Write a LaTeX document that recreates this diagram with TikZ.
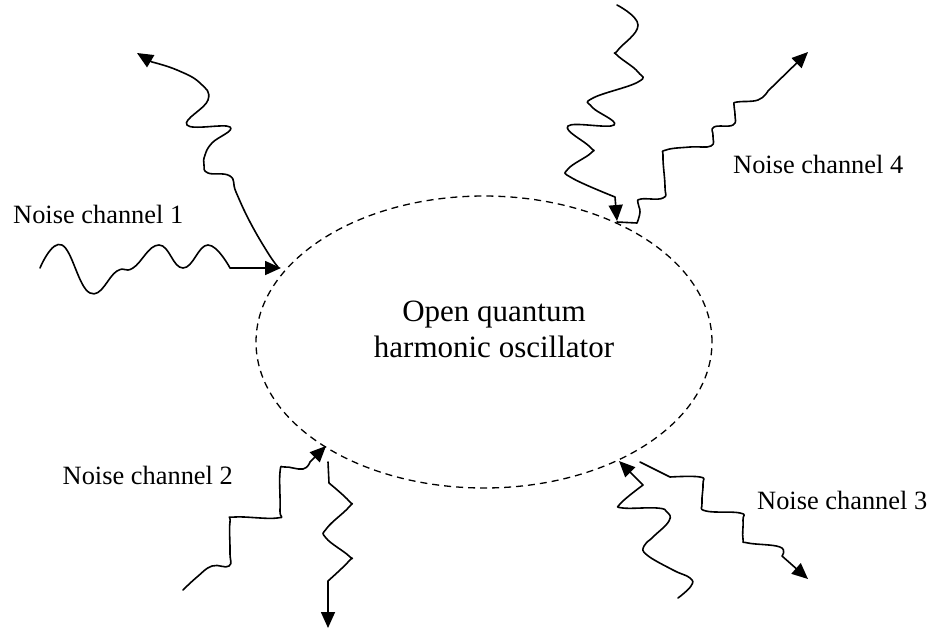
\documentclass[tikz,border=0pt]{standalone}
\usepackage{fontspec}
\setmainfont{Liberation Serif}
\usetikzlibrary{arrows.meta,shapes.geometric}
\tikzset{
  wave/.style={line width=1.6pt, line join=round, line cap=round},
  tip/.style={-{Triangle[length=16pt,width=14pt]}},
  lbl/.style={font=\fontsize{26.4}{30}\selectfont, inner sep=0pt},
  sq/.style={smooth, tension=0.75}
}
\begin{document}
\begin{tikzpicture}[x=1pt,y=-1pt]
\useasboundingbox (0,0) rectangle (933,630);
% oscillator
\node[draw, ellipse, dashed, dash pattern=on 7pt off 5pt, line width=1.3pt,
      minimum width=456pt, minimum height=292pt, inner sep=0pt] (osc) at (484,342) {};
\node[align=center, font=\fontsize{31}{36}\selectfont, inner sep=0pt] (title) at (494,329)
  {Open quantum\\harmonic oscillator};
% labels
\node[lbl, anchor=base west] (n1) at (13,223) {Noise channel 1};
\node[lbl, anchor=base west] (n4) at (733,173) {Noise channel 4};
\node[lbl, anchor=base east] (n2) at (233,484) {Noise channel 2};
\node[lbl, anchor=base west] (n3) at (757,509) {Noise channel 3};
% contact points
\coordinate (c1in) at (281,268);
\coordinate (c1out) at (278,267);
\coordinate (c1end) at (137,53);
\coordinate (c4in) at (617,221);
\coordinate (c4out) at (617,222);
\coordinate (c4end) at (808,52);
\coordinate (c2in) at (326,446);
\coordinate (c2out) at (328,462);
\coordinate (c2end) at (328,628);
\coordinate (c3in) at (619,461);
\coordinate (c3out) at (640,462);
\coordinate (c3end) at (808,579);
% channel 1
\draw[wave, tip] plot[sq] coordinates {(40,268) (62,245) (90,293) (117,271) (133,268) (159,245) (183,268) (208,245) (230,268)} -- (c1in);
\draw[wave, tip] plot[sq] coordinates {(278,267) (268,253) (250,222) (236,192) (230,176) (208,173) (204,165) (205,155) (212,143) (230,127) (187,125) (208,100) (200,83) (177,70) (152,62)} -- (c1end);
% channel 4
\draw[wave, tip] plot[sq] coordinates {(617,5) (638,25) (618,50) (617,55) (638,72) (638,82) (593,98) (592,107) (614,125) (568,126) (590,147) (591,153) (568,169) (572,178) (615,197)} -- (c4in);
\draw[wave, tip] (c4out) -- plot[sq] coordinates {(637,223) (640,212) (638,203) (641,199) (663,198) (665,187) (663,157) (666,150) (690,147) (711,146) (713,136) (714,127) (733,125) (735,115) (734,105) (737,102) (758,100) (768,91)} -- (c4end);
% channel 2
\draw[wave, tip] plot[sq] coordinates {(183,590) (197,577) (212,566) (229,566) (230,552) (230,522) (235,517) (277,518) (280,510) (280,472) (285,467) (303,469) (310,462)} -- (c2in);
\draw[wave, tip] (c2out) -- plot[sq] coordinates {(329,483) (349,501) (349,507) (327,528) (326,538) (349,556) (349,561) (328,581)} -- (c2end);
% channel 3
\draw[wave, tip] plot[sq] coordinates {(678,598) (691,586) (690,578) (673,570) (647,555) (644,546) (653,537) (669,521) (667,512) (657,508) (623,508) (621,503) (643,485)} -- (c3in);
\draw[wave, tip] (c3out) -- plot[sq] coordinates {(670,477) (700,477) (703,484) (702,503) (706,511) (740,513) (743,520) (743,539) (748,543) (780,547) (782,556)} -- (c3end);
\end{tikzpicture}
\end{document}
